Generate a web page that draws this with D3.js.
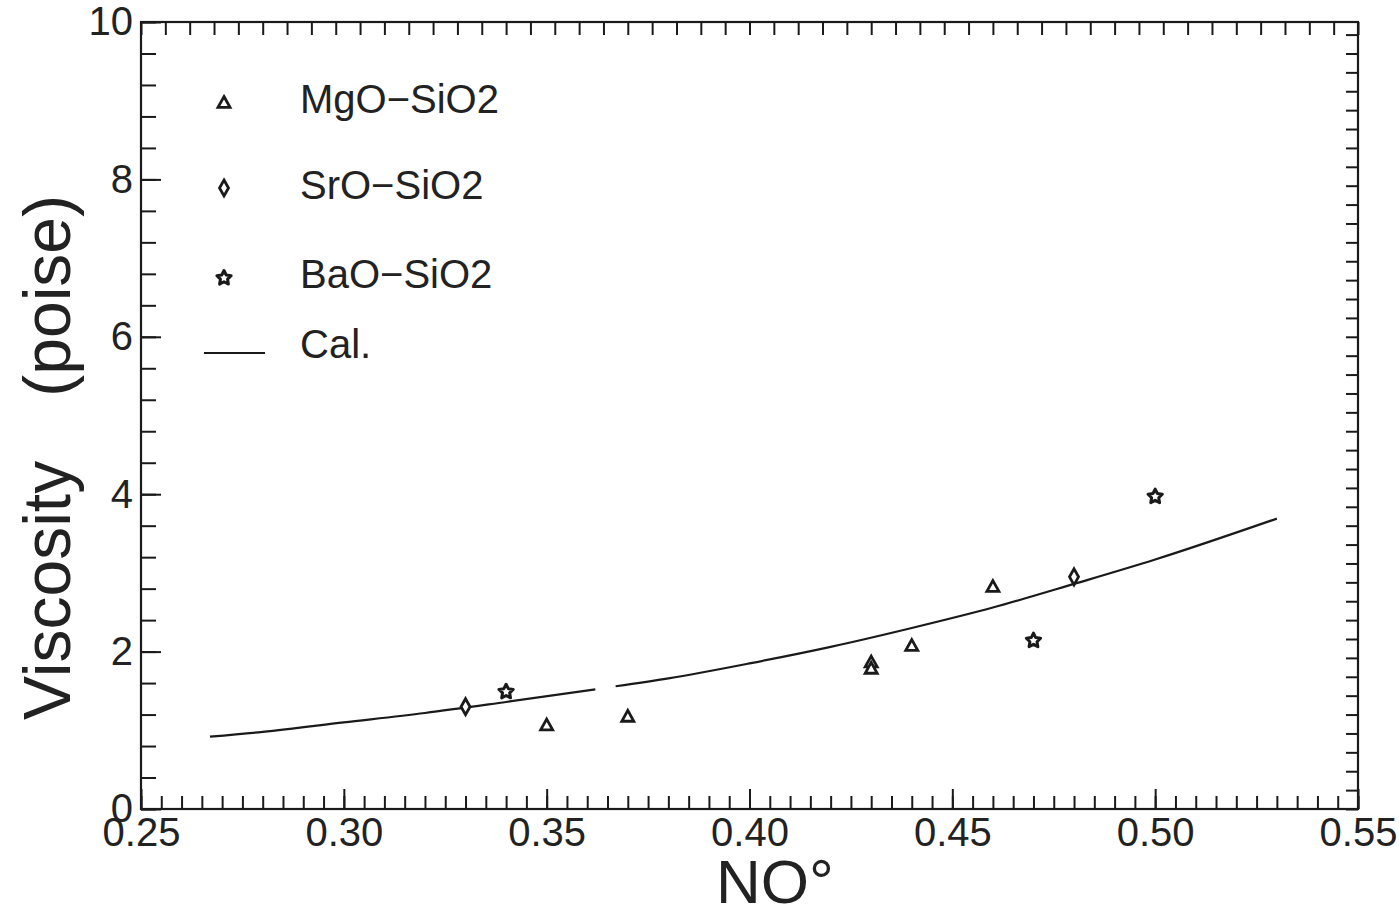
<!DOCTYPE html>
<html><head><meta charset="utf-8">
<script src="https://cdn.jsdelivr.net/npm/d3@7"></script>
<style>body{margin:0;background:#fff}svg{display:block}text{font-family:"Liberation Sans",Arial,sans-serif;fill:#222}</style>
</head><body><svg id="c" width="1399" height="911"></svg>
<script>
// ---- data ----
const mgoX = [0.35, 0.37, 0.43, 0.43, 0.44, 0.46];
const mgoY = [1.06, 1.17, 1.86, 1.78, 2.07, 2.82];
const sroX = [0.33, 0.48];
const sroY = [1.30, 2.95];
const baoX = [0.34, 0.47, 0.50];
const baoY = [1.49, 2.14, 3.97];
// calculated curve (drawn with a small gap in the original)
const calX1 = [0.267, 0.28, 0.30, 0.32, 0.34, 0.362];
const calY1 = [0.92, 0.98, 1.10, 1.22, 1.36, 1.52];
const calX2 = [0.367, 0.38, 0.40, 0.42, 0.44, 0.46, 0.48, 0.50, 0.53];
const calY2 = [1.56, 1.66, 1.85, 2.06, 2.30, 2.56, 2.86, 3.17, 3.69];
const xTickLabels = ["0.25","0.30","0.35","0.40","0.45","0.50","0.55"];
const yTickLabels = ["0","2","4","6","8","10"];
const legendLabels = ["MgO\u2212SiO2","SrO\u2212SiO2","BaO\u2212SiO2","Cal."];

const svg = d3.select("#c");
const L = 141, R = 1358, T = 22, B = 809;
const x = d3.scaleLinear().domain([0.25, 0.55]).range([L, R]);
const y = d3.scaleLinear().domain([0, 10]).range([B, T]);
const ink = "#1a1a1a";
const FF = '"Liberation Sans",Arial,sans-serif';

// frame
svg.append("rect").attr("x", L).attr("y", T).attr("width", R - L).attr("height", B - T)
  .attr("fill", "none").attr("stroke", ink).attr("stroke-width", 2.2);

function styleAxis(g){ g.select(".domain").remove(); g.selectAll("line").attr("stroke", ink).attr("stroke-width", 2); }

// bottom axis: minor & major ticks inward
const xMinor = d3.range(0, 61).map(i => 0.25 + i * 0.005);
svg.append("g").attr("transform", `translate(0,${B})`)
  .call(d3.axisBottom(x).tickValues(xMinor).tickSize(-13).tickFormat(""))
  .call(styleAxis);
const xMajor = xTickLabels.map(Number);
const gxb = svg.append("g").attr("transform", `translate(0,${B})`)
  .call(d3.axisBottom(x).tickValues(xMajor).tickSize(-20).tickPadding(9).tickFormat((d, i) => xTickLabels[i]))
  .call(styleAxis);
gxb.selectAll("text").attr("font-size", 40).attr("fill", "#222").attr("font-family", FF);

// top axis: uniform ticks
const xTop = d3.range(0, 51).map(i => 0.25 + i * 0.006);
svg.append("g").attr("transform", `translate(0,${T})`)
  .call(d3.axisTop(x).tickValues(xTop).tickSize(-13).tickFormat(""))
  .call(styleAxis);

// left axis
const yMinor = d3.range(0, 26).map(i => i * 0.4);
svg.append("g").attr("transform", `translate(${L},0)`)
  .call(d3.axisLeft(y).tickValues(yMinor).tickSize(-15).tickFormat(""))
  .call(styleAxis);
const yMajor = yTickLabels.map(Number);
const gyl = svg.append("g").attr("transform", `translate(${L},0)`)
  .call(d3.axisLeft(y).tickValues(yMajor).tickSize(-20).tickPadding(8).tickFormat((d, i) => yTickLabels[i]))
  .call(styleAxis);
gyl.selectAll("text").attr("font-size", 40).attr("fill", "#222").attr("font-family", FF);

// right axis: uniform ticks
const yRight = d3.range(0, 42).map(i => i * 0.24);
svg.append("g").attr("transform", `translate(${R},0)`)
  .call(d3.axisRight(y).tickValues(yRight).tickSize(-12).tickFormat(""))
  .call(styleAxis);

// calculated curve
const line = d3.line().x(d => x(d[0])).y(d => y(d[1])).curve(d3.curveMonotoneX);
[[calX1, calY1], [calX2, calY2]].forEach(([xs, ys]) => {
  svg.append("path").datum(xs.map((v, i) => [v, ys[i]]))
    .attr("d", line).attr("fill", "none").attr("stroke", ink).attr("stroke-width", 2.2);
});

// marker shapes
function triPath(s){ const h = s * 0.9; return `M0,${-h*0.6}L${s/2},${h*0.4}L${-s/2},${h*0.4}Z`; }
function diaPath(w, h){ return `M0,${-h/2}L${w/2},0L0,${h/2}L${-w/2},0Z`; }
function starPath(r){
  let p = "";
  for (let i = 0; i < 10; i++) {
    const a = -Math.PI / 2 + i * Math.PI / 5, rr = i % 2 ? r * 0.5 : r;
    p += (i ? "L" : "M") + (rr * Math.cos(a)).toFixed(2) + "," + (rr * Math.sin(a)).toFixed(2);
  }
  return p + "Z";
}
const shapes = {
  tri: g => g.append("path").attr("d", triPath(12)).attr("fill", "#fff").attr("stroke", ink).attr("stroke-width", 2.8),
  dia: g => g.append("path").attr("d", diaPath(9, 16)).attr("fill", "#fff").attr("stroke", ink).attr("stroke-width", 2.8),
  star: g => g.append("path").attr("d", starPath(7.5)).attr("fill", "#fff").attr("stroke", ink).attr("stroke-width", 3).attr("stroke-linejoin", "round")
};
function plotSeries(xs, ys, kind){
  xs.forEach((v, i) => {
    const g = svg.append("g").attr("transform", `translate(${x(v)},${y(ys[i])})`);
    shapes[kind](g);
  });
}
plotSeries(mgoX, mgoY, "tri");
plotSeries(sroX, sroY, "dia");
plotSeries(baoX, baoY, "star");

// legend
const legY = [103, 188, 278];
["tri", "dia", "star"].forEach((k, i) => {
  const g = svg.append("g").attr("transform", `translate(224,${legY[i]})`);
  shapes[k](g);
});
svg.append("line").attr("x1", 204).attr("x2", 265).attr("y1", 353).attr("y2", 353).attr("stroke", ink).attr("stroke-width", 2);
const legBase = [113, 199, 288, 358];
legendLabels.forEach((t, i) => {
  svg.append("text").attr("x", 300).attr("y", legBase[i]).attr("font-size", 40).text(t);
});

// axis titles
svg.append("text").attr("x", 775).attr("y", 903).attr("text-anchor", "middle").attr("font-size", 62).text("NO\u00B0");
svg.append("text").attr("transform", "translate(70,720) rotate(-90)").attr("text-anchor", "start").attr("font-size", 66).text("Viscosity");
svg.append("text").attr("transform", "translate(70,195) rotate(-90)").attr("text-anchor", "end").attr("font-size", 66).text("(poise)");
</script></body></html>
